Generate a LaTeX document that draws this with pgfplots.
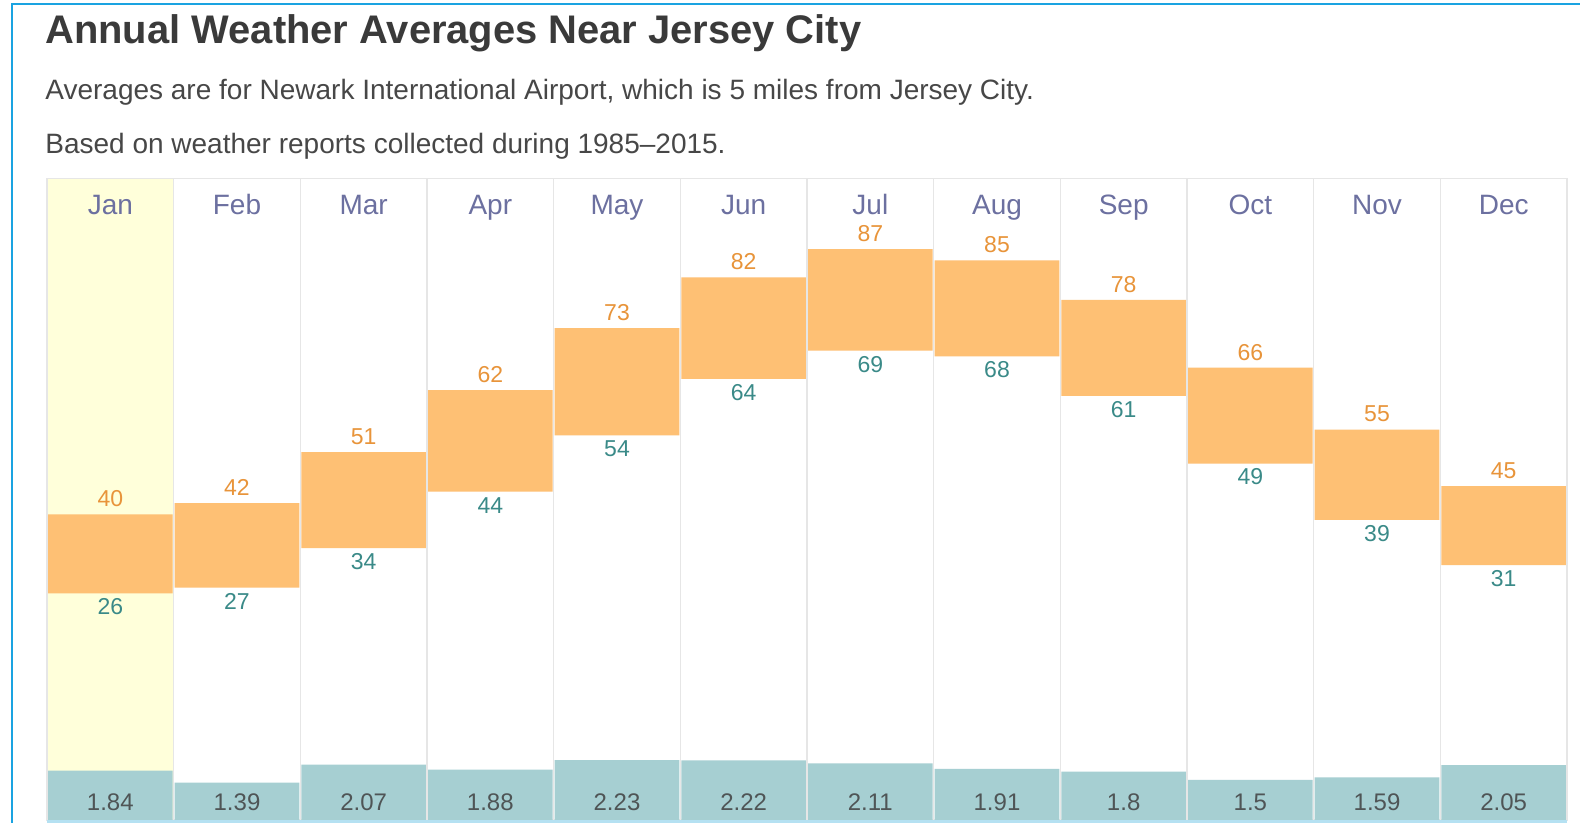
\documentclass[border=0pt]{standalone}
\usepackage{pgfplots}
\pgfplotsset{compat=1.18}
\usepackage{pgfplotstable}
\usepackage{fontspec}
\setmainfont{Liberation Sans}

\definecolor{titlecol}{HTML}{3A3A3A}
\definecolor{subcol}{HTML}{474747}
\definecolor{monthcol}{HTML}{6C70A0}
\definecolor{highcol}{HTML}{E8943A}
\definecolor{lowcol}{HTML}{3A8A88}
\definecolor{barorange}{HTML}{FEC074}
\definecolor{precipbar}{HTML}{A6CFD2}
\definecolor{precipcol}{HTML}{4F5556}
\definecolor{gridgray}{HTML}{E6E6E6}
\definecolor{janbg}{HTML}{FFFFDA}
\definecolor{frameblue}{HTML}{1AA3E1}
\definecolor{bottomblue}{HTML}{B5E1F2}

\pgfplotstableread{
x low high precip
0 26 40 1.84
1 27 42 1.39
2 34 51 2.07
3 44 62 1.88
4 54 73 2.23
5 64 82 2.22
6 69 87 2.11
7 68 85 1.91
8 61 78 1.8
9 49 66 1.5
10 39 55 1.59
11 31 45 2.05
}\data

\pgfplotsset{
  common/.style={
    at={(23.5pt,1.5pt)}, anchor=south west,
    scale only axis, width=760pt, height=320.85pt,
    xmin=-0.5, xmax=11.5,
    enlargelimits=false, clip=false,
    ytick=\empty,
    major tick length=0pt, minor tick length=0pt,
    /pgf/number format/assume math mode=true,
  }
}

\begin{document}
\begin{tikzpicture}[x=1pt,y=1pt]
\useasboundingbox (0,0) rectangle (790,411.5);
\fill[white] (0,0) rectangle (790,411.5);
% frame
\draw[frameblue, line width=1.25pt] (6,-1) -- (6,409.5) -- (791,409.5);
% titles
\node[anchor=base west, inner sep=0, text=titlecol, font=\fontsize{19.95}{22}\selectfont\bfseries] at (22.5,389.85) {Annual Weather Averages Near Jersey City};
\node[anchor=base west, inner sep=0, text=subcol, font=\fontsize{14}{16}\selectfont] at (22.5,361.5) {Averages are for Newark International Airport, which is 5 miles from Jersey City.};
\node[anchor=base west, inner sep=0, text=subcol, font=\fontsize{14}{16}\selectfont] at (22.5,334.5) {Based on weather reports collected during 1985–2015.};
% January highlight
\fill[janbg] (23.5,1.5) rectangle (86.35,322.35);

% temperature bars
\begin{axis}[common,
  ymin=-14.2, ymax=99.57,
  axis line style={draw=gridgray, line width=0.6pt},
  xtick={0,...,11},
  xticklabels={Jan,Feb,Mar,Apr,May,Jun,Jul,Aug,Sep,Oct,Nov,Dec},
  xticklabel pos=upper,
  xticklabel style={anchor=base, yshift=-18.35pt, text=monthcol, font=\fontsize{14}{16}\selectfont},
  minor xtick={0.5,1.5,...,10.5},
  minor x grid style={draw=gridgray, line width=0.6pt},
  xminorgrids=true,
  ybar stacked, bar width=62.3pt,
]
\addplot[draw=none, fill=none] table[x=x, y=low] {\data};
\addplot[draw=none, fill=barorange] table[x=x, y expr=\thisrow{high}-\thisrow{low}] {\data};
\end{axis}

% temperature labels
\begin{axis}[common,
  ymin=-14.2, ymax=99.57,
  axis line style={draw=none}, xtick=\empty,
]
\addplot[draw=none, mark=none, point meta=explicit,
  nodes near coords,
  every node near coord/.append style={anchor=center, yshift=-6.7pt, text=lowcol, font=\fontsize{11.5}{13}\selectfont}]
  table[x=x, y=low, meta=low] {\data};
\addplot[draw=none, mark=none, point meta=explicit,
  nodes near coords,
  every node near coord/.append style={anchor=center, yshift=7.75pt, text=highcol, font=\fontsize{11.5}{13}\selectfont}]
  table[x=x, y=high, meta=high] {\data};
\end{axis}

% precipitation
\begin{axis}[common,
  ymin=0, ymax=23.94,
  axis on top,
  axis line style={draw=none},
  xtick={0,...,11},
  xticklabels from table={\data}{precip},
  xticklabel pos=lower,
  xticklabel style={anchor=base, yshift=4.65pt, text=precipcol, font=\fontsize{12}{14}\selectfont},
  ybar, bar width=62.3pt,
]
\addplot[draw=none, fill=precipbar] table[x=x, y=precip] {\data};
\end{axis}

% bottom line
\fill[bottomblue] (23.5,0) rectangle (783.5,1.3);
\end{tikzpicture}
\end{document}
